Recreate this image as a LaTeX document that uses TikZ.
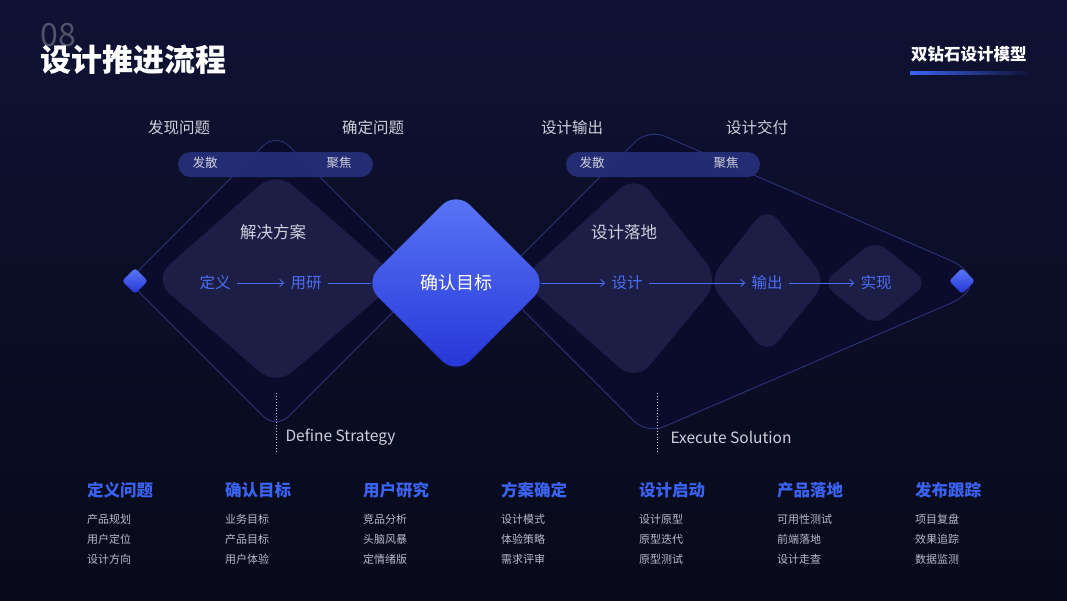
\documentclass[tikz,border=0pt]{standalone}
\usepackage{fontspec}
\setmainfont{Noto Sans CJK SC}
\usepackage{xcolor}
\usetikzlibrary{arrows.meta,calc,positioning,shapes.geometric}
\definecolor{bgtop}{HTML}{0F1233}
\definecolor{bgbot}{HTML}{080A1A}
\definecolor{shellfill}{HTML}{0B0C2C}
\definecolor{shellline}{HTML}{2C3478}
\definecolor{innerfill}{HTML}{1D1E46}
\definecolor{pillblue}{HTML}{262F7A}
\definecolor{flowblue}{HTML}{4B6EF6}
\definecolor{headblue}{HTML}{3B63F2}
\definecolor{softgray}{HTML}{CFD0DC}
\definecolor{itemgray}{HTML}{B9BACA}
\definecolor{numgray}{HTML}{50526A}
\definecolor{gemtop}{HTML}{5A78F7}
\definecolor{gembot}{HTML}{2433D6}
\newcommand{\fs}[1]{\fontsize{#1}{#1}\selectfont}

\begin{document}
\begin{tikzpicture}[x=1pt,y=-1pt,>={Straight Barb[length=4pt,width=7pt]},
  toplab/.style={text=softgray,font=\fs{15.5}},
  pilltext/.style={text=softgray,font=\fs{12.5}},
  flowtext/.style={text=flowblue,font=\fs{15.5},inner sep=6pt},
  flow/.style={flowblue,line width=0.8pt},
  shell/.style={fill=shellfill,draw=shellline,line width=0.9pt,rounded corners=18pt},
  inner/.style={fill=innerfill,rounded corners=22pt},
  gem/.style={diamond,inner sep=0pt,top color=gemtop,bottom color=gembot,draw=none},
  pill/.style={fill=pillblue,fill opacity=0.92,rounded corners=12.5pt},
  headtext/.style={anchor=west,text=headblue,font=\fs{16.5}\bfseries},
  itemtext/.style={anchor=west,text=itemgray,font=\fs{11}},
  phase/.style={anchor=west,text=softgray,font=\fs{15.5}}]
  \useasboundingbox (0,0) rectangle (1067,600);
  \shade[top color=bgtop,bottom color=bgbot] (0,0) rectangle (1067,600);
  % heading
  \node[anchor=west,text=numgray,font=\fs{32}] (num) at (37,35) {08};
  \node[anchor=west,text=white,font=\fs{31}\bfseries,inner sep=0pt] (ttl) at (40,60) {设计推进流程};
  \node[anchor=west,text=white,font=\fs{16.5}\bfseries,inner sep=0pt] (tag) at (911,54) {双钻石设计模型};
  \shade[left color=headblue,right color=bgtop] ($(tag.south west)+(-1,9)$) rectangle ++(120,3);
  % diamonds
  \draw[shell] (276,133) -- (424,281) -- (276,429) -- (128,281) -- cycle;
  \draw[shell] (495,282) -- (648,129) [rounded corners=55pt] -- (1000,282) [rounded corners=18pt] -- (647,434) -- cycle;
  \fill[inner] (276,171) -- (400,279) -- (276,386) -- (153,279) -- cycle;
  \fill[inner] (636,174) -- (720,280) -- (636,382) -- (520,280) -- cycle;
  \fill[inner,rounded corners=18pt] (767,206) -- (827,281) -- (767,355) -- (708,281) -- cycle;
  \fill[inner,rounded corners=14pt] (875,240) -- (928,283) -- (875,326) -- (822,283) -- cycle;
  \fill[pill] (178,152) rectangle (373,177);
  \fill[pill] (566,152) rectangle (760,177);
  % labels
  \node[toplab] (find) at (179,128) {发现问题};
  \node[toplab] (fix) at (373,128) {确定问题};
  \node[toplab] (outp) at (572,128) {设计输出};
  \node[toplab] (deliv) at (757,128) {设计交付};
  \node[pilltext] (divL) at (205,163) {发散};
  \node[pilltext] (conL) at (339,163) {聚焦};
  \node[pilltext] (divR) at (592,163) {发散};
  \node[pilltext] (conR) at (726,163) {聚焦};
  \node[text=softgray,font=\fs{16.5}] (plan) at (273,232) {解决方案};
  \node[text=softgray,font=\fs{16.5}] (land) at (624,232) {设计落地};
  % flow
  \node[gem,minimum width=184pt,minimum height=184pt,rounded corners=20pt,text=white,font=\fs{18}] (qr) at (456,283) {确认目标};
  \node[gem,minimum width=26pt,minimum height=26pt,rounded corners=3pt] (tipL) at (135,281) {};
  \node[gem,minimum width=26pt,minimum height=26pt,rounded corners=3pt] (tipR) at (962,281) {};
  \node[flowtext] (dy) at (215,283) {定义};
  \node[flowtext] (yy) at (306,283) {用研};
  \node[flowtext] (sj) at (627,283) {设计};
  \node[flowtext] (sc) at (767,283) {输出};
  \node[flowtext] (sx) at (876,283) {实现};
  \draw[flow,->] (dy) -- (yy);
  \draw[flow,shorten >=-7pt] (yy) -- (qr);
  \draw[flow,->,shorten <=-7pt] (qr) -- (sj);
  \draw[flow,->] (sj) -- (sc);
  \draw[flow,->] (sc) -- (sx);
  % phases
  \coordinate (ds) at (276,393);
  \coordinate (es) at (657,393);
  \draw[softgray,dotted,line width=0.9pt] (ds) -- ++(0,59);
  \draw[softgray,dotted,line width=0.9pt] (es) -- ++(0,59);
  \node[phase] (dsl) at (282,437) {Define Strategy};
  \node[phase] (esl) at (667,437) {Execute Solution};
  % steps
  \foreach \h/\a/\b/\c [count=\i from 0] in {定义问题/产品规划/用户定位/设计方向,确认目标/业务目标/产品目标/用户体验,用户研究/竞品分析/头脑风暴/定情绪版,方案确定/设计模式/体验策略/需求评审,设计启动/设计原型/原型迭代/原型测试,产品落地/可用性测试/前端落地/设计走查,发布跟踪/项目复盘/效果追踪/数据监测} {
    \node[headtext,inner sep=0pt] (h\i) at (87+138*\i,490) {\h};
    \node[itemtext,inner sep=0pt] (a\i) at (87+138*\i,519) {\a};
    \node[itemtext,inner sep=0pt] (b\i) at (87+138*\i,539) {\b};
    \node[itemtext,inner sep=0pt] (c\i) at (87+138*\i,559) {\c};
  }
\end{tikzpicture}
\end{document}
